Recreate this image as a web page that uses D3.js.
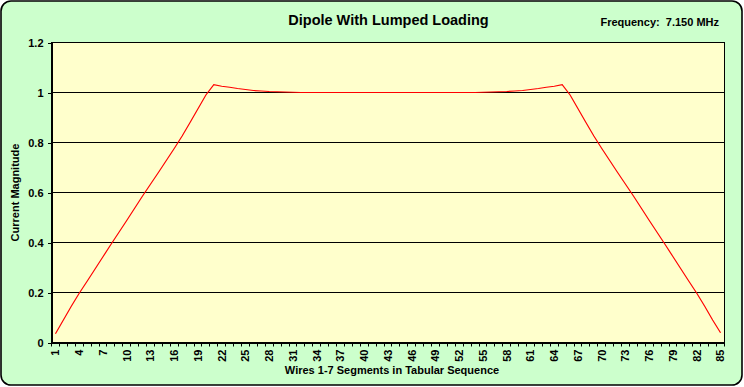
<!DOCTYPE html>
<html>
<head>
	<meta charset="utf-8">
	<title>Dipole With Lumped Loading</title>
	<style>
		body {
			margin: 0;
			background: #fff;
			font-family: Arial, "Liberation Sans", sans-serif;
		}
		svg text {
			font-weight: bold;
			fill: #000;
		}
	</style>
</head>
<body>
	<div id="chart"></div>

	<script src="https://cdnjs.cloudflare.com/ajax/libs/d3/7.8.5/d3.min.js"></script>
	<script>
	// Segment numbers 1..85 (wires 1-7 in tabular sequence)
	var segments = [
		1, 2, 3, 4, 5, 6, 7, 8, 9, 10, 11, 12, 13, 14, 15, 16, 17,
		18, 19, 20, 21, 22, 23, 24, 25, 26, 27, 28, 29, 30, 31, 32, 33, 34,
		35, 36, 37, 38, 39, 40, 41, 42, 43, 44, 45, 46, 47, 48, 49, 50, 51,
		52, 53, 54, 55, 56, 57, 58, 59, 60, 61, 62, 63, 64, 65, 66, 67, 68,
		69, 70, 71, 72, 73, 74, 75, 76, 77, 78, 79, 80, 81, 82, 83, 84, 85
	]

	// Current magnitude
	var current = [
		0.035, 0.090, 0.145, 0.197, 0.245, 0.294, 0.343, 0.392, 0.440, 0.488,
		0.537, 0.586, 0.633, 0.680, 0.728, 0.776, 0.826, 0.880, 0.935, 0.990,
		1.031, 1.025, 1.021, 1.016, 1.012, 1.008, 1.006, 1.004, 1.003, 1.002,
		1.001, 1.000, 1.000, 1.000, 1.000, 1.000, 1.000, 1.000, 1.000, 1.000,
		1.000, 1.000, 1.000, 1.000, 1.000, 1.000, 1.000, 1.000, 1.000, 1.000,
		1.000, 1.000, 1.000, 1.000, 1.001, 1.002, 1.003, 1.004, 1.006, 1.008,
		1.012, 1.016, 1.021, 1.025, 1.031, 0.990, 0.935, 0.880, 0.826, 0.776,
		0.728, 0.680, 0.633, 0.586, 0.537, 0.488, 0.440, 0.392, 0.343, 0.294,
		0.245, 0.197, 0.145, 0.090, 0.039
	]

	var yTicks = [0, 0.2, 0.4, 0.6, 0.8, 1, 1.2]
	var xLabelEvery = 3

	var titleText = "Dipole With Lumped Loading",
		freqText    = "Frequency:  7.150 MHz",
		xTitle      = "Wires 1-7 Segments in Tabular Sequence",
		yTitle      = "Current Magnitude"

	// Settings
	var width  = 744,
		height = 387,
		plotLeft   = 51.5,
		plotRight  = 724.5,
		plotTop    = 42.5,
		plotBottom = 342.5

	var svg = d3.select("#chart").append("svg")
		.attr("width", width)
		.attr("height", height)

	// Chart area (rounded, light green)
	svg.append("rect")
		.attr("x", 1).attr("y", 1)
		.attr("width", 741).attr("height", 384)
		.attr("rx", 10).attr("ry", 10)
		.attr("fill", "#ccffcc")
		.attr("stroke", "#000")
		.attr("stroke-width", 1.6)

	// Scales
	var x = d3.scaleBand()
		.domain(segments)
		.range([plotLeft, plotRight])
		.padding(0)

	var y = d3.scaleLinear()
		.domain([0, 1.2])
		.range([plotBottom, plotTop])

	// Plot area
	svg.append("rect")
		.attr("x", plotLeft).attr("y", plotTop)
		.attr("width", plotRight - plotLeft)
		.attr("height", plotBottom - plotTop)
		.attr("fill", "#ffffcc")
		.attr("stroke", "#000")
		.attr("stroke-width", 1)

	// Gridlines
	svg.append("g").selectAll("line")
		.data(yTicks.filter(function(d){ return d > 0 }))
		.join("line")
		.attr("x1", plotLeft).attr("x2", plotRight)
		.attr("y1", function(d){ return y(d) })
		.attr("y2", function(d){ return y(d) })
		.attr("stroke", "#000")
		.attr("stroke-width", 1)
		.attr("shape-rendering", "crispEdges")

	// Y axis
	var yAxis = svg.append("g")
		.attr("transform", "translate(" + plotLeft + ",0)")
		.call(d3.axisLeft(y)
			.tickValues(yTicks)
			.tickSize(4)
			.tickPadding(4)
			.tickFormat(d3.format("~g")))
	yAxis.selectAll("text")
		.style("font-size", "11px")
		.style("font-family", "Arial, 'Liberation Sans', sans-serif")
	yAxis.selectAll("line, path").attr("stroke", "#000").attr("shape-rendering", "crispEdges")

	// X axis: labels every 3rd segment, tick marks on segment boundaries
	var xAxis = svg.append("g")
		.attr("transform", "translate(0," + plotBottom + ")")
		.call(d3.axisBottom(x)
			.tickValues(segments.filter(function(d, i){ return i % xLabelEvery === 0 }))
			.tickSize(0)
			.tickSizeOuter(0))
	xAxis.select(".domain").attr("stroke", "#000").attr("shape-rendering", "crispEdges")
	xAxis.selectAll("text")
		.attr("transform", "rotate(-90)")
		.attr("x", -7)
		.attr("y", 0)
		.attr("dy", "0.35em")
		.attr("text-anchor", "end")
		.style("font-size", "11px")
		.style("font-family", "Arial, 'Liberation Sans', sans-serif")

	var boundaries = segments.map(function(d){ return x(d) }).concat([plotRight])
	svg.append("g").selectAll("line")
		.data(boundaries)
		.join("line")
		.attr("x1", function(d){ return Math.round(d - 0.5) + 0.5 })
		.attr("x2", function(d){ return Math.round(d - 0.5) + 0.5 })
		.attr("y1", plotBottom)
		.attr("y2", plotBottom + 4)
		.attr("stroke", "#000")
		.attr("stroke-width", 1)

	// The current line
	var line = d3.line()
		.x(function(d, i){ return x(segments[i]) + x.bandwidth() / 2 })
		.y(function(d){ return y(d) })

	svg.append("path")
		.datum(current)
		.attr("d", line)
		.attr("fill", "none")
		.attr("stroke", "#ff0000")
		.attr("stroke-width", 1.2)

	// Titles
	var midX = (plotLeft + plotRight) / 2
	svg.append("text")
		.attr("x", midX + 0.5).attr("y", 25)
		.attr("text-anchor", "middle")
		.style("font-size", "14.5px")
		.text(titleText)

	svg.append("text")
		.attr("x", 719).attr("y", 26)
		.attr("text-anchor", "end")
		.style("font-size", "11px")
		.style("white-space", "pre")
		.text(freqText)

	svg.append("text")
		.attr("x", midX + 4).attr("y", 374)
		.attr("text-anchor", "middle")
		.style("font-size", "11px")
		.text(xTitle)

	svg.append("text")
		.attr("transform", "translate(19," + ((plotTop + plotBottom) / 2) + ") rotate(-90)")
		.attr("text-anchor", "middle")
		.style("font-size", "11px")
		.text(yTitle)
	</script>
</body>
</html>
